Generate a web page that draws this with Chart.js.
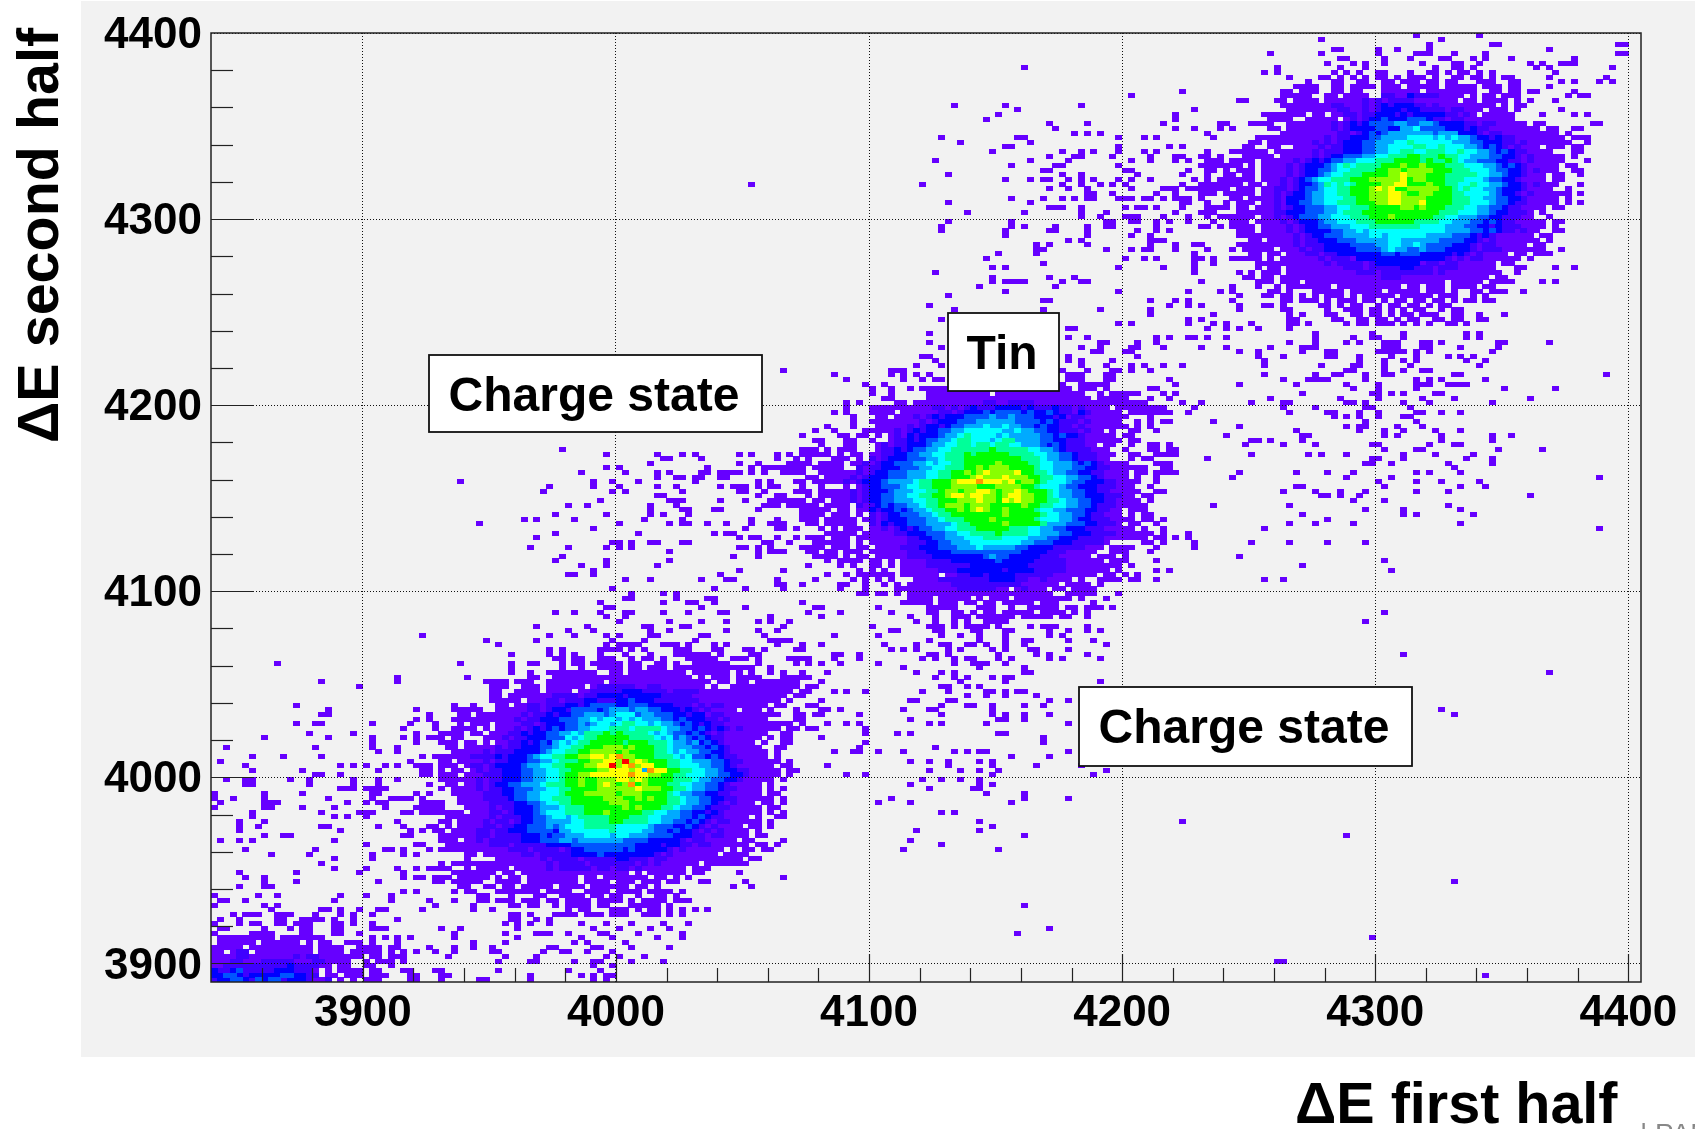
<!DOCTYPE html>
<html>
<head>
<meta charset="utf-8">
<title>dE first half vs second half</title>
<style>
html,body{margin:0;background:#fff}
canvas{display:block}
</style>
<script src="https://cdn.jsdelivr.net/npm/chart.js@4"></script>
</head>
<body>
<canvas id="myChart" width="1695" height="1129"></canvas>
<script>
// ---------------------------- data ----------------------------
// histogram bins are 2.5 x 2.5 wide, x starts at 3840, y starts at 3890
const xMajorTicks = [3900, 4000, 4100, 4200, 4300, 4400];
const yMajorTicks = [3900, 4000, 4100, 4200, 4300, 4400];
const xMinorTicks = [3860,3880,3920,3940,3960,3980,4020,4040,4060,4080,4120,4140,4160,4180,4220,4240,4260,4280,4320,4340,4360,4380];
const yMinorTicks = [3920,3940,3960,3980,4020,4040,4060,4080,4120,4140,4160,4180,4220,4240,4260,4280,4320,4340,4360,4380];
const boxLabels = ['Charge state', 'Tin', 'Charge state'];
const levelColors = ['#6600ff','#3f00ff','#0000ff','#0055ff','#00aaff','#00ffff','#00ff99','#00ff00','#88ff00','#ffff00','#ff9900','#ff0000'];
const levelChars = '0123456789ab';

// cluster around 4000 / 4000: first col 33, first row 77, rows go downwards
const lowBlobRows = [
"...............................0.......0....0...0....0.0..0",
"..................0.......0........00....00..............0",
".......................0...0........0..0........0....0..0",
"0...................0...0....0.0....00......00........0",
"..........0.......0...........0....0.......0...........00",
"............0................0.0000...000.0...0.0.......0...0",
"....................0.0.....0000.0.0....000...00...00.0.....0",
"..............0.....0.0.0...0...0...0...000000.0....00.",
".....................00.00..000..0.00.0...00000..000.0....00....",
"......0.......0..00...0.00.00000.00..00.0..000000....0.....0.0",
"..............0.......0..0..0000.00.000.0000000000000..0",
"..............0..0..00000000..00.000000000.000000.0.0..0.0..0",
".......0.........00..0000000000000000000000.0.000.0000...00000",
"..........0000.000..000000000.0000000000000000.00.00.0000000...0",
"...........000..000.000000.011111100110000000.0..00000000000.00",
"...........00..0000.0000.0011111222111101111000000000000000.00",
"...........00.00000001111011222212222211111000000000000000.00",
"...........00000.0001101112211122322211111110000000000000.0",
".....0..0...00.0011011122123333223332222111010110000000.00...00",
".....00000..00000110122133332344434433222121010000.000.0...0...00",
".0....00.000000010112122334443455534433322122011000000000..00.00",
".0...00000000001011222333445455454544433232221101000000....00",
"..0...0.000.00001101222334345545665545443232121100000000000.0",
"..0..0000.0.000101212323344555666566665443323212101000000.00.00",
"...0000.00.00011212233445466676766665454332321010000000..00",
".000.00...00010112223335456677777666654534323211000000.0.00",
"...000.00.0.00112123245456677777677766654434232100000.0..00",
"....00.00000101122233455667778887877766544433232100000..00",
".....00000101112222345566778888787777665454433221000000.0",
"0.00000011112122234556677889989a88777666545332321100000.0",
"...00.00001011222334456667788998b898777665544433211000000.0",
"00.000.01101222234455667778899b89a8997766555443321000000.00",
"00.0.00.0101122233445566777788999894a99776655443221100000.00",
"00.000.00011122233445567788999999a99887766555443322100000.0",
"...00000010112223344556778778889989877776665443322100000.0",
".0..00.00101223344456667787789878a78777665544332100000.0",
"...0.0000101122333445566777788888898887766544332110000.0.0",
".0...0000011122334455567778888878887777654433221100000.00",
"0.....00001111233445566677777888778787766544332211000000.0",
"0000..00000111122334556677777788877777766544332101000.00.0",
"0000...00001011222344456667777778787776654433211100000.00",
"0000000.0001101222345556667778777776655443322121000000.0.0",
"....000000010111223345545666667776665544433232110000.0..00",
"...00.000010110122334444556666776666554433232101100000.0",
".00.0.000011011223334345556666655555433322321010000.00.0",
"0.00.00001101122233332445555556555544332322101010000.0",
"...0000001101111222323344455554554443333222110110000.00",
"...000.0010111112223334434444444333322222101100000.00....0",
"0...000000011101111122223333333333222212211011000000.00.0",
".0.000000000001110111101223333332322222101000000.0.00.00",
".......00.0000001101111122223222222221010000000.0000",
".......0....000000010111101111122111011000000000000.00",
"...0.000000000000000101111011111110101000000.0000000",
".0000..0.00000.000001011111011011010000000.000",
".....0000000.00.00000000000000000.0.000000.00.....0",
"0.000.00000.0.00.00000000.00.0000000.00.0.0..............0",
"..00.00000..0000.00000000.0000.000.000.00...00.....0",
"......00..00.00.00000.0000.000000.00.0...........0..0",
".....0.00...0000000.0000..0000.0000.0000.0",
".........00...0...00..0000.00.00..0..00.0",
".0...0...00.000.000.00.0000.0000.0.0000.000",
"..0.....0.....00.00..0.0000.00...00000.0",
"........0..0...........0.00...000.0.00.0.0.0.0",
"..............00.0...0000.000.000..000.0.0"
];

// cluster around 4150 / 4150: first col 90, first row 137
const midBlobRows = [
".......................0..........................00....0..0",
".........................0.....................0..0....00...0",
".................................................00...00",
"......................00.....................0..........0",
"........................0....................0.0....0",
".....................0...0.....................0...0...0.0..0..0",
"0................000.......................00...0...00.0..0",
"........0........0.0.0.0..................00.000...00",
"..........0........0..0.00................00.000...00........0",
".............0..0............00000.......0000..00000..........0",
"..............0..0..0.000000.............00000.000.0......00",
"..............0..0.....0000000000.00000000000000..0.00000...0.0",
"................00.....00000000000000000000000000.00000...0..0",
"..........0.0.....00.0000000000011001111000000000000000000.....0",
"..........0...00000000001101012111222212111211010000.00000000....0.",
"........0.0...0000.00000011012223233332322321102100000.0000000..0",
"...........0...00.0001012122233334334333222120110000000...0",
"...........0..0000000010122233344444433332321110100000..0.0.00",
".......0...0...0000010122123344454454433232211010000000.0.0",
".....0..0....00000101212233445555554454433221110100.0..00..0",
"...0.....00.00.0.010212223445655554544444332322100000.00",
".....00...00..0..0112123344566555456644443322111000000.00",
"......0...00...01011222344556656656655444323211100.00..0..00.0",
"...000.0.000...0112123344556666667666665544321111000..0...00.00",
".0.00000.0.00.001122334455666767777766665544332111000..00..0000",
"..0.0...000.0.10122233344566677777777766654433211100...0.00",
".0000.0000.00101223334454556677777877776655444323210000....000",
"0000.00000..1011222333445566677878887777655444332211000000..00",
"0000..0000001012233344455667787898888977665443322110000.00.0000",
"....00.000010122233344455667778988898887766554433210000.0..0",
"..00.00000101222344445667778999a9998978876555433222110000..0",
"...0..0...0.01223334556677788887778888776555433222111000..0",
"..000.000001012223444556678878899878898777654433221100000..00",
"0...0.00000101223344556677899899887899887765443322211100.00",
"0000.00.0001012233444556677788898879898877665443322110000.0",
".00000.0000.1012323344566788878887777787766554433211100000",
"...00000.00.002122323445667787898778777765544333221100.000",
"...0000.000.0.1012233344566777777778777776554433211000.0.00",
"...000.00000.0101222333445666777787777776555443221110000.00.0",
"0...00.00000..1021223334444566777778777776444333221110.00..0",
"0.0...0.0.000.001012123344556667777766655443322211100000.0..0",
".......00000.0000011222333445566667666655444332221111000000.0...0",
"..0.000.000.0000000011223344455566655554443322211110000000.00.0.0",
".0...000000.0.00000011122334445555555544333222111110.....00.0....0",
"...0000.000.00.000011122233344454444433222211111000.0000...0.....0",
"0...00.00.000.000000111222233333333333222211100000..000...0",
".....0000.0.00.0000011112222222234332222211100000.000.0",
".......0.0000.00.0.00001111222222232222211111000000.000....0",
"....0....0.0..00.0.00001111111222222222111111000000000.0",
"0...........0.0.0..000000111222222212222111110000000.0.....0.0",
".......0..0.000000.000000.001122122221111110000000.00.0.0",
".....0.....0.0.0.0...0000111111112222110010000.0..0000.00..0",
"0..0.....00..0..0.0.000000011111111111000000.0000.0",
"0........0...0....000000000011111100.01000.00.0000",
"............00.00.0.00000000000000000000000..00000...0",
"....................0000.00000.0.000.000000000.0...0",
"...0...............00000.000.00.00.00000.000.....0",
".....00........0.......00000...000..0..00000.00.000.0",
"....0....0.......0.....00..00.0.00.00000.0000.0.0",
"......0.............0...0..000.000000.00000.00..0",
".0...................0..0..0.0..0000............",
"..............0........000.0.0000.0....0.000....0",
".................00.....00....00...00.....0..0..0.0",
"........0......0.........0..0..0...0......0.0",
"00.....................0.......0...0..00.....0...0",
"...0..0.........0....0...00..00.0..0..0............0",
"..0..............0.0.0....0.0....0.0...00....0",
"........00..0..........00.0.......0.....0.0.....0",
"...00...0...0.........0.0..0.00...0.0.....0.0.....0"
];

// cluster around 4310 / 4315: first col 159, first row 204
const highBlobRows = [
"",
"...............................0.........0",
"................0..................0",
".................................0.........00..................00",
"..................00.....0..0....0..................0",
"........0.......0........0.....000...0....0....................00",
"...................00.....0...0....00...0.0...0.........0",
".................0...0.0..0.....0....00..0.......0.0..000",
".........0.........0...0..........0..00.0.........0.0.........0",
".......0.0........0.0.0..00...0..00.0.00.0.0.........0",
"...........0....00.0.0.0.00.0.000.0..00.00.0.00.....0........0",
"..............0...00..00..00.000.00.00...000..00......0.0...0.0",
"............0000..00.0000.000.00000.00000.000.00....0",
"..........00.000..00.00...000000.00000000..00.00.00.....0",
"..........00000..00.0000..1100211110000.0.00.000.......0.00",
"...0.....00.0000.000000101011110000000.00.0000.0.0...0",
"..........0000000011000101212221101000000000.0.00",
"...........0000000011001012221221111011000.000.0......0",
".......0000000.00.00110112221212222211010.00000....0....0.0",
"........0000..00000.010122322233321101100000000",
".0...0000..00000001012123333443344322221101100000.00.......00",
"0.0.....00.0000000101222233224453333222121100000000.00..00",
"..........00000000011012323444444434442221011000000000.0",
"......0000000000010112223344445555454544322121100000000.000",
".....00.000000010101222334445565555554443322211010000000..0",
"....00..00..000010112223344555566556555443232101000.000.00",
"..000000.00000010111222334455665566655655443232110000...00",
"0...00000.000001012233344556667766676655444332210100000.0",
"0.0000.000001012123344555666777767667654433322110100000...0",
"0000.0.00001012223456566667778778777666555443232100000.00",
".0.000.00001012233455666677887888877766655543322101000..00",
".00.00.000010122345566677778898887776666655443221000.00..0",
"000000.000101234556667778888897887776665554332210000.00",
"0000.00.0010122346565677778899777877665565544322101000...0",
"00.000.0011012334556677789897788888776565544322210000..0",
".00000.0010122344556677788899877887776655554322101000000.0",
"..00.0000102223445556677888998888777766655443322100000.0",
".0.000.00102233445566677788998889777766655543321100000.0.0",
"00.00.0001012233344556667777788787776665544332110000.00",
"...00000011222333445666777777777777666555443221110.0",
"000000.0010123334455566677787777776655444332211100..0",
"..000.0000101222344555666777777666655444332321100000.00",
"0.0000.000010122334445556666666655554443322121110000.0",
"...000.00001012222334454555555555555444433232110100..00",
"...00000000010122333444455455555544443332121000000.00",
".....00.0000101122233344444554444443333221010000000.0",
"...0000000001011122223333445544543333222101100000.00",
"..0.00000.000101122222333345443343332222101110000000..0",
".....00.00.00011011222222233233322222121010000.00.000",
"..00000.0.00000010111022222222222222101011000000.0",
"......00000000000101111012222222011011000000.00",
"......0.00.000000000111011111221110111000000...00....0..0",
"...0.0.000.0000000000011101111111101000000000..0",
"....00.00.000000000000000011100000000000000.00",
"......000.000.0000000000000000000000.00000.0000....0.0",
"..0...0..0.0000000.0000000000.00.000.0000.00",
"0.0.....00.0...00000.00000.00000.000.0..00.000..0",
"...0...00.00.0.0.000.0.00000.00000.000..0.0",
"..0.......00.000.0.000.00.0.00.00.00.0.00.00",
"...0...00.0.....00.0.00..0.00.00.0.00",
"...0......00.....0..000.00.0.0.00..0.00",
"...........0.0...00..00.00.0.00.000..00..0...0",
"...........00.....00..00.00.0.00..00.00..00",
".0...0.....00.0.....0.00.000.0.0.0..00.0",
""
];

// lower left corner: first col 0, first row 15
const cornerRows = [
".........0.......00.0..0..00.....0",
"...0.000..000...0...0.0..0",
".0..0.....00..0000.0..0......0",
"0...0.00..00.000...00.0..0",
".00.....0...0.00...00....000",
"0.....0000....00...00..0",
".000000000.0000000.......0.0.0.0",
".000000.000000.0.00..000.0...0",
"00000.0000000000.0000..0000.00....0",
"00.011.000000000.0000.00000.0.0.0",
"000011000000010110000000.00.000",
"0001100011111000110000..0.000.0",
"0011111111112111100.00..00..0",
"21123111112221110.0.0000.00...00...0",
"22332122222332211.00.000.000...00",
"1223321323312221001.0.0.000....00...0.....0"
];

// single stray cells: [row, col, col, ...]
const leftStrays = [
[74,33],[68,10],[65,29],[64,17,29],[63,23],[59,13],[58,18,32],[57,17,18],[56,32],[55,13,16,17,25,31],[54,30],[53,15,22,32],
[52,8,18,25,30,32],[51,25,32],[50,2,16,25,29],[49,26,29],[48,6,11,17],[47,1,31],[46,5,20,22,24,27,29,32],[45,6,14,26],[44,16,17,20],
[43,2,5,6,12,15,22,26,29],[42,5,6,15,22,26],[41,20,21,22,24,25,26,27],[40,0,8,14,25,26,32],[39,0,3,8,18,25,28,29,30,31],[38,1,8,9,10,21,24,26,27],[37,0,8,9,14,19,27,32],
[36,6,17,23,24,25,30,31],[35,6,19,21,24],[34,4,8,29],[33,4,7,17,18,26,30],[32,4,20,31],[31,8,11,12,30,31],[30,1,4,6,19],[29,24,32],[28,5,16,27,28,30],
[27,9,15,25,30,32],[26,19,25],[25,17],[24,19,24,29,32],[23,4,13,23,30],[22,5,8,30,32],[21,8,13,26],[20,4,8,9],[19,30,32],[18,0,7,10,20,24,28],[17,1,2,5,19,28],[16,0,8,10]
];
const lowerStrays = [
[13,47,48,51,53],[12,46,48,50,53,58,62,66,71,75],[11,36,39,48,60,64,69,72],[10,38,46,51,52,53,56,61,62,67,74],[9,38,48,58,63,70,74],
[8,41,46,57,59,65],[7,38,41,44,53,54,60,61,66,72],[6,35,38,44,45,52,55,56,59,63],[5,37,46,51,62,64,68],[4,45,50,51,57,60,61,66,71],
[3,60,63],[2,36,45,56,61],[1,36,37,50,58,60,62,63],[0,36,43,50,60,62]
];
const bridgeLowStrays = [
[114,55],[113,62,70,74,76,83,85,89],[112,71,72,77,89],[111,69,83,86],[110,62,64,78,85,87,88,89],[109,58,65,70,72,77,78,80,81,82,83,85,87],
[108,70,73,74,76,77,80,81],[107,39,60,63,67,76,86,88],[106,53,60,64,70,73,80,82,83,84,86,88,89],[105,52,63,65,74,83,84,87],[104,70,71,86,89],
[103,61,72,73,74,80,84,88,89],[102,56,59,69,73,87,88,89],[101,69,74,75,79,80,86],[100,54,62,69,71,75],[99,49,51,57,68,74,85,89],
[98,42,64,72,74,75,78,81,85,88,89],[97,60,84,89],[96,54,67,79,81,82],[95,51,83,85,86,89],[94,63,64,66,69,70,74,75,87,88],[93,50,56,62,64,66,83,84,86,88],
[92,72,86,88,89],[91,55,82,86],[90,54,62,72],[89,58,62,70],[88,60,83],[87,56,57,60,80],[86,65,69,77,81,82,89],[85,89],[84,63,79,84],
[83,66,71,73],[82,65,66,73,78,79],[81,61,71,75,76,79],[80,62,63,77,84],[79,54,57,61,65,66,71,75,80,81],[78,62,65,88],
[68,96,99],[66,97],[62,98,100],[60,96],[58,99],[55,97,100],[52,96],[49,98,101],[46,97],[44,100]
];
const bridgeHighStrays = [
[196,128],[191,153],[190,145],[189,163],[188,117,125,137],[187,127,155],[186,124,152],[185,122,152],[184,132,138,150,159],[183,133,152,155],
[182,136,138,140,157],[181,115,127,128,143,147,149,158],[180,118,129],[179,125,126,143,151,153],[178,123,134,137,139,143,147,149,157],
[177,132,136,137,142,148,152,153,156,157],[176,114,129,135,145,148,152,154,157,158],[175,126,133,134,143,156,157,158],[174,131,132,144,145,154,157,158],
[173,116,134,137,146,153,157],[172,125,129,131,132,135,137,139,143,145,148,155,157],[171,85,112,134,137,140,142,144,153,156,157,158],[170,132,135,138,145,150,151,152,154,155,156,157,158],
[169,138,139,142,149,152,156,157,158],[168,126,131,134,136,138,139,143,144,145,147,148,150,152,153,154,156],[167,116,129,153,154,157],[166,132,133,134,137,144,146,147,149,153,157,158],
[165,119,128,137,141,152,156,157,158],[164,137,140,144,145,146,150,154,157],[163,116,126,141,142,145,146,149,151,154,158],[162,115,126,128,133,138,141,142,149,156,157],
[161,115,125,132,133,138,146,149,151],[160,125,138,145,148],[159,135,137,148,149,150],[158,130,132,138,148,152,155,156],[157,130,131,141,145,147,148,152,157],
[156,124,130,155],[155,122,144,147,149,155,156,158],[154,131,155,158],[153,123,125,143,150,155],[152,114,155],[151,123,132,136],[150,123,125,126,127,128,134,137,138,156],
[149,121,133],[148,125,143,154],[147,116],[146,131,132,148,152,154],[145,113,151,154,156],[144,117,131,140,148],[143,148,158],[142,115,154,156],[141,143,145,154,158],
[140,135,136,157,160,165],[139,113],[138,135,138,149,151,154,155,157,160],[136,156,160],[124,156],[120,158],[117,160],[112,157],[108,161],[102,158]
];
const belowMidStrays = [
[68,105,117,120,121,122,125],[67,109,121,128],[66,111,115,117,128,129],[65,114,117,119,123,125,126],[64,118,125,140],[63,115,116,119,121],
[62,103,112,116,122,123,125,127,128],[61,119,122,125,130],[60,110,111,116,117,132,135],[59,115,119,120,123,128,131],[58,109,113,114,123],
[57,102,115,123,125,128,132],[56,110,124,125,128],[55,102,113,115,122,135],[54,103],[53,103,108,110,124,125],[52,131],[51,103,131],[50,102,114],
[49,102,105,109,117,119,121,122,135],[48,126,132],[47,110,113,116,121,123],[46,116,123,130,137],[45,113,118,121,124,141],[44,103,123,139],
[43,112,115,118,121],[42,110,121,123],[41,113,120,121],[40,122,128],[39,107,128,135],[38,105,110,126],[36,115,117],[34,121,153],[33,123],[32,111,121],
[31,128,179],[30,110],[29,115],[28,109,124],[21,196],[16,128],[11,132],[10,127],[9,183],[4,168,169],[1,201]
];
const belowHighStrays = [
[140,162,165,170],[139,174,183,188,198,200],[138,174,180,183,184,188,198,200],[137,170,174,179,181,185,186,187,191,192,194,203,204,211],[136,167,172,173,174,185,186,187,191,192,197,203],
[135,162,165,172,176,177,184,185,186,187,188,190,192,202],[134,165,169,176,177,181,186,190,195,197,199],[133,166,181,185,188,190,198,201],[132,166,175,180,181,185,189,200],
[131,179,180,185,188,191,192],[130,166,174,177,178,182,185,186,196,197,220],[129,169,173,174,175,176,182,190,192,194,201],[128,162,171,179,184,190,191,192,195,196,197,198],
[127,180,184,190,204,212],[126,172,183,184,186,188,193,194],[125,167,178,184,191,196,208],[124,164,169,170,179,180,182,188,192,202],[123,169,174,182,183,189],
[122,170,176,177,181,184,190,191,194,197],[121,177,179,181,184,188,189],[120,182,190],[119,162,179,181,182,187,191],[118,171,181,185,188,193,197],[117,172,173,185,187,194,202,205],
[116,164,165,167,172,194,202],[115,163,169,174,183,184,192,196,197],[114,185,190,191,203,210],[113,164,173,175,179,188,193,199],[112,183,184,188,198,202],[111,182,183,186,195,202],
[110,196],[109,162,171,176,180,190,192,197],[108,179,186,219],[107,184,190,194,200],[106,171,172,185,197,201],[105,169,174,178,182,190,195],[104,175,176,178,181,208],
[103,180,185],[102,170,195],[101,182,188,197],[100,172,188,190,199],[99,176],[98,170,174,180,197],[97,166,219],[94,164,170,176,182],[91,162],[90,185],[89,172],[88,186],[86,166,169],
[79,185],[77,182],[70,188],[66,211],[58,194],[57,196]
];

// ---------------------------- build the cells ----------------------------
var cellsByLevel = levelColors.map(() => []);

function addCell(level, col, row) {
  cellsByLevel[level].push({ x: 3840 + 2.5 * (col + 0.5), y: 3890 + 2.5 * (row + 0.5) });
}

function addRows(rows, firstCol, firstRow) {
  rows.forEach((text, i) => {
    for (let c = 0; c < text.length; c++) {
      const level = levelChars.indexOf(text[c]);
      if (level >= 0) addCell(level, firstCol + c, firstRow - i);
    }
  });
}

function addStrays(list) {
  list.forEach(item => {
    item.slice(1).forEach(col => addCell(0, col, item[0]));
  });
}

addStrays(leftStrays);
addStrays(lowerStrays);
addStrays(bridgeLowStrays);
addStrays(bridgeHighStrays);
addStrays(belowMidStrays);
addStrays(belowHighStrays);
addRows(cornerRows, 0, 15);
addRows(lowBlobRows, 33, 77);
addRows(midBlobRows, 90, 137);
addRows(highBlobRows, 159, 204);

// one little image per colour, used as the point style (bins are wider than tall)
function cellImage(color) {
  var c = document.createElement('canvas');
  c.width = 7;
  c.height = 5;
  var g = c.getContext('2d');
  g.fillStyle = color;
  g.fillRect(0, 0, 7, 5);
  return c;
}

// first dataset ends up on top, so hot levels go first
var datasets = levelColors.map((color, i) => ({
  label: 'level ' + i,
  data: cellsByLevel[i],
  pointStyle: cellImage(color),
  pointRadius: 3,
  showLine: false
})).reverse();

// ---------------------------- plugins for the ROOT style frame ----------------------------
const framePlugin = {
  id: 'frame',
  beforeDraw(chart) {
    const ctx = chart.ctx;
    ctx.save();
    ctx.fillStyle = '#ffffff';
    ctx.fillRect(0, 0, 1695, 1129);
    ctx.fillStyle = '#f2f2f2';
    ctx.fillRect(81, 1, 1614, 1056);
    ctx.restore();
  },
  afterDraw(chart) {
    const ctx = chart.ctx;
    const area = chart.chartArea;
    const xs = chart.scales.x;
    const ys = chart.scales.y;
    ctx.save();

    // inside tick marks
    ctx.strokeStyle = '#222';
    ctx.lineWidth = 1.2;
    function tickX(v, len) {
      const p = Math.round(xs.getPixelForValue(v)) + 0.5;
      ctx.beginPath(); ctx.moveTo(p, area.bottom); ctx.lineTo(p, area.bottom - len); ctx.stroke();
    }
    function tickY(v, len) {
      const p = Math.round(ys.getPixelForValue(v)) + 0.5;
      ctx.beginPath(); ctx.moveTo(area.left, p); ctx.lineTo(area.left + len, p); ctx.stroke();
    }
    xMajorTicks.forEach(v => tickX(v, 28));
    xMinorTicks.forEach(v => tickX(v, 14));
    yMajorTicks.slice(0, 5).forEach(v => tickY(v, 43));
    yMinorTicks.forEach(v => tickY(v, 22));

    // frame
    ctx.strokeStyle = '#222';
    ctx.lineWidth = 1.5;
    ctx.strokeRect(area.left, area.top, area.right - area.left, area.bottom - area.top);

    // y tick labels sit a little lower than the library would put them
    ctx.font = 'bold 44px "Liberation Sans"';
    ctx.textAlign = 'right';
    ctx.textBaseline = 'middle';
    ctx.fillStyle = '#000';
    yMajorTicks.forEach(v => ctx.fillText(String(v), 202, ys.getPixelForValue(v) + 3));

    // label boxes
    const boxes = [[429, 355, 333, 77, 411], [948, 313, 111, 78, 369], [1079, 687, 333, 79, 743]];
    ctx.font = 'bold 48px "Liberation Sans"';
    ctx.textAlign = 'center';
    ctx.textBaseline = 'alphabetic';
    boxes.forEach((b, i) => {
      ctx.fillStyle = '#ffffff';
      ctx.fillRect(b[0], b[1], b[2], b[3]);
      ctx.strokeStyle = '#111';
      ctx.lineWidth = 1.8;
      ctx.strokeRect(b[0], b[1], b[2], b[3]);
      ctx.fillStyle = '#000';
      ctx.fillText(boxLabels[i], b[0] + b[2] / 2 - 1.5, b[4]);
    });

    // axis titles
    ctx.font = 'bold 57.5px "Liberation Sans"';
    ctx.textAlign = 'left';
    ctx.fillStyle = '#000';
    ctx.fillText('\u0394E first half', 1295, 1123);
    ctx.save();
    ctx.translate(58, 443);
    ctx.rotate(-Math.PI / 2);
    ctx.fillText('\u0394E second half', 0, 0);
    ctx.restore();

    // bit of the next slide text cut by the page edge
    ctx.font = '28px "Liberation Sans"';
    ctx.fillStyle = '#888';
    ctx.fillText('| PAN', 1640, 1143);
    ctx.restore();
  }
};

// ---------------------------- chart ----------------------------
var ctx = document.getElementById('myChart').getContext('2d');
var myChart = new Chart(ctx, {
  type: 'scatter',
  data: { datasets: datasets },
  plugins: [framePlugin],
  options: {
    responsive: false,
    animation: false,
    events: [],
    layout: { autoPadding: false, padding: { left: 0, right: 54, top: 33, bottom: 0 } },
    plugins: { legend: { display: false }, tooltip: { enabled: false } },
    scales: {
      x: {
        type: 'linear',
        min: 3840,
        max: 4405,
        afterFit(scale) { scale.height = 147; },
        afterBuildTicks(scale) { scale.ticks = xMajorTicks.map(v => ({ value: v })); },
        border: { display: false, dash: [1, 2] },
        grid: { color: '#111', lineWidth: 1, z: 1, drawTicks: false },
        ticks: {
          autoSkip: false,
          maxRotation: 0,
          padding: 5,
          color: '#000',
          callback: v => String(v),
          font: { family: '"Liberation Sans"', size: 44, weight: 'bold' }
        }
      },
      y: {
        type: 'linear',
        min: 3890,
        max: 4400,
        afterFit(scale) { scale.width = 211; },
        afterBuildTicks(scale) { scale.ticks = yMajorTicks.map(v => ({ value: v })); },
        border: { display: false, dash: [1, 2] },
        grid: { color: '#111', lineWidth: 1, z: 1, drawTicks: false },
        ticks: { display: false }
      }
    }
  }
});
</script>
</body>
</html>
